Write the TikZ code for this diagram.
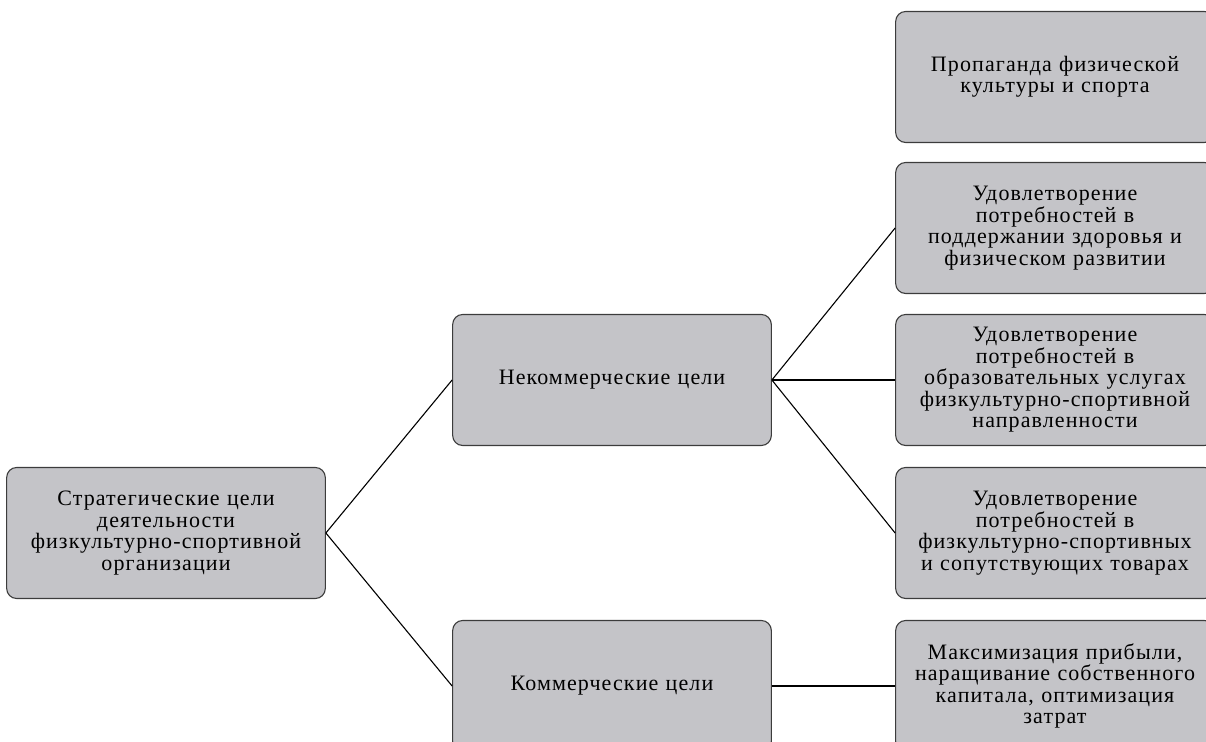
\documentclass[tikz,border=0pt]{standalone}
\usepackage{fontspec}
\setmainfont{Liberation Serif}
\newfontfamily\scanfont[LetterSpace=5]{Liberation Serif}
\definecolor{boxgray}{RGB}{196,196,200}
\definecolor{boxline}{RGB}{60,60,60}
\begin{document}
\begin{tikzpicture}[x=1pt,y=1pt]
       \tikzstyle{goal}=[draw=boxline, fill=boxgray, line width=1.1pt, rounded corners=10pt,
         minimum width=316pt, minimum height=131pt, text width=312pt, align=center,
         font=\scanfont\fontsize{22}{21.5}\selectfont]
       \tikzstyle{link}=[draw, line width=1.1pt]
       \useasboundingbox (0,0) rectangle (1206,741);
       \clip (0,0) rectangle (1206,741);
       % root and the two kinds of goals
       \node[goal] (strat) at (166,208) {Стратегические цели\\деятельности\\физкультурно-спортивной\\организации};
       \node[goal] (noncom) at (612,361) {Некоммерческие цели};
       \node[goal] (com) at (612,55) {Коммерческие цели};
       % right column
       \node[goal] (promo) at (1055,664) {Пропаганда физической\\культуры и спорта};
       \node[goal] (health) at (1055,513) {Удовлетворение\\потребностей в\\поддержании здоровья и\\физическом развитии};
       \node[goal] (educ) at (1055,361) {Удовлетворение\\потребностей в\\образовательных услугах\\физкультурно-спортивной\\направленности};
       \node[goal] (goods) at (1055,208) {Удовлетворение\\потребностей в\\физкультурно-спортивных\\и сопутствующих товарах};
       \node[goal] (profit) at (1055,55) {Максимизация прибыли,\\наращивание собственного\\капитала, оптимизация\\затрат};
       \foreach \a/\b in {strat/noncom, strat/com, noncom/health, noncom/educ, noncom/goods, com/profit}
         \draw[link] (\a.east) -- (\b.west);
      \end{tikzpicture}
\end{document}
